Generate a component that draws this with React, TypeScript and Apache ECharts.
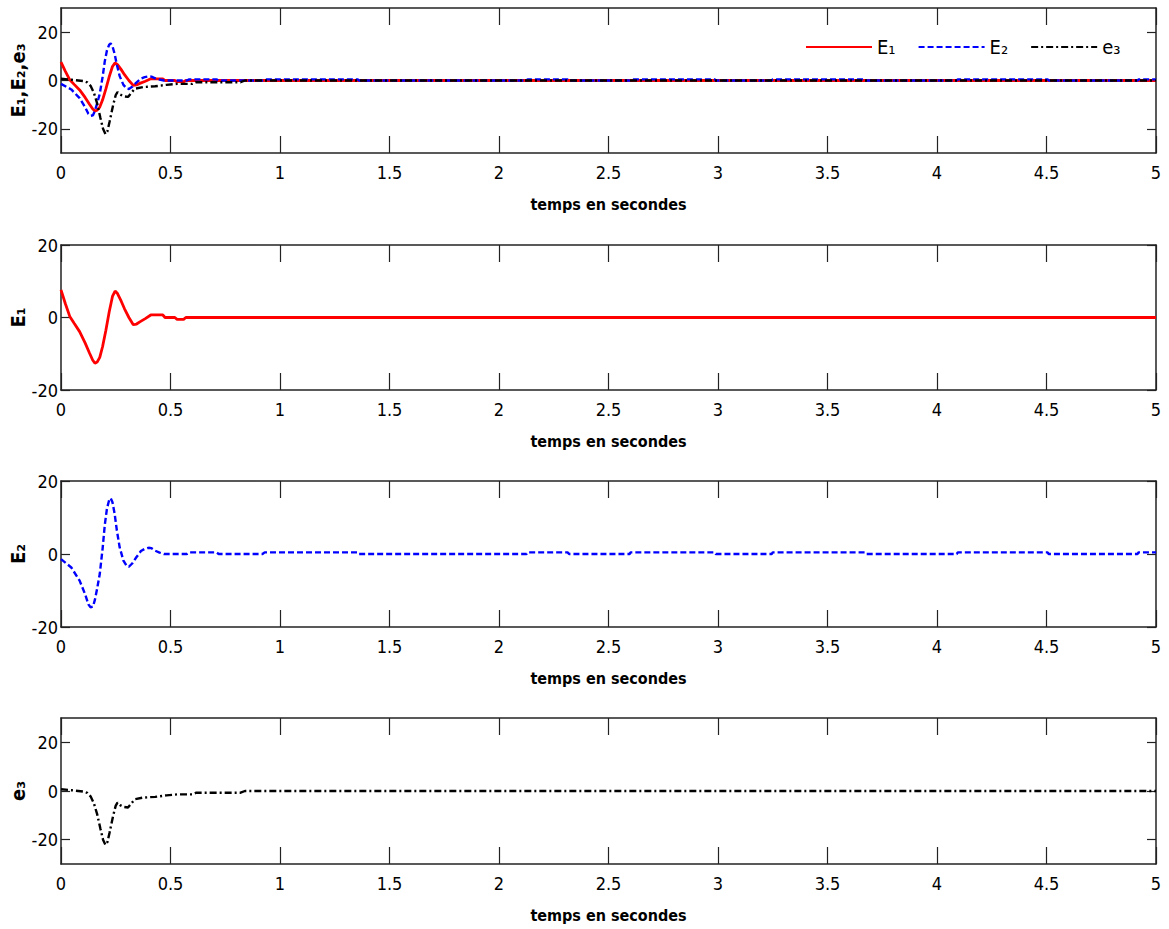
import React, { useEffect, useRef } from "react";
import * as echarts from "echarts";

// ---- Data ----
const tE1 = [0, 0.02, 0.04, 0.06, 0.085, 0.11, 0.13, 0.145, 0.155, 0.165, 0.177, 0.19, 0.205, 0.22, 0.235, 0.247, 0.258, 0.275, 0.29, 0.31, 0.33, 0.345, 0.36, 0.385, 0.41, 0.465, 0.475, 0.52, 0.53, 0.56, 0.57, 5];
const vE1 = [7.6, 3.8, 0.3, -1.6, -3.9, -7, -9.8, -11.8, -12.6, -12.3, -11, -8, -3.5, 1.5, 5.8, 7.3, 6.6, 4.5, 2.4, 0, -2, -1.8, -1.2, -0.3, 0.7, 0.7, 0, 0, -0.5, -0.5, 0, 0];

const tE2 = [0, 0.047, 0.085, 0.11, 0.125, 0.135, 0.146, 0.155, 0.165, 0.177, 0.19, 0.2, 0.21, 0.22, 0.227, 0.235, 0.245, 0.255, 0.268, 0.285, 0.3, 0.31, 0.325, 0.344, 0.365, 0.382, 0.4, 0.413, 0.43, 0.45, 0.47, 0.575, 0.585, 0.71, 0.72, 0.92, 0.93, 1.355, 1.36, 2.126, 2.13, 2.313, 2.32, 2.597, 2.6, 2.985, 2.99, 3.245, 3.25, 3.67, 3.675, 4.09, 4.095, 4.505, 4.51, 4.916, 4.92, 5];
const vE2 = [-1.4, -3.7, -7.3, -11, -13.8, -14.6, -14.4, -12.5, -9.5, -5.5, 1.5, 8, 12.5, 14.8, 15.3, 14.2, 11, 6.5, 1.8, -1.8, -3.3, -3.5, -2.6, -0.9, 0.8, 1.4, 1.7, 1.6, 0.9, 0.4, 0, 0, 0.45, 0.45, 0, 0, 0.45, 0.45, 0, 0, 0.45, 0.45, 0, 0, 0.45, 0.45, 0, 0, 0.45, 0.45, 0, 0, 0.45, 0.45, 0, 0, 0.45, 0.45];

const te3 = [0, 0.05, 0.1, 0.12, 0.135, 0.15, 0.165, 0.18, 0.192, 0.203, 0.212, 0.222, 0.238, 0.25, 0.258, 0.27, 0.285, 0.306, 0.322, 0.337, 0.375, 0.43, 0.481, 0.53, 0.6, 0.618, 0.82, 0.84, 5];
const ve3 = [0.7, 0.3, -0.2, -0.8, -2.2, -5, -9.5, -15.5, -20, -22.2, -21, -17, -10.2, -6, -4.8, -5.8, -6.5, -6.8, -5, -3.4, -2.7, -2.4, -1.8, -1.4, -1.4, -0.7, -0.7, 0, 0];

const xTicks = { min: 0, max: 5, interval: 0.5 };
const yRangeWide = { min: -30, max: 30 };
const yRangeNarrow = { min: -20, max: 20 };
const yTickValues = [-20, 0, 20];
const seriesNames = ["E\u2081", "E\u2082", "e\u2083"];
const yNames = ["E\u2081,E\u2082,e\u2083", "E\u2081", "E\u2082", "e\u2083"];
const xName = "temps en secondes";

const FONT = '"Liberation Sans Narrow", "DejaVu Sans Condensed", "Arial Narrow", sans-serif';
const AXIS_COLOR = "#222";

function pairs(t: number[], v: number[]) {
  return t.map((x, i) => [x, v[i]]);
}

const grids = [
  { top: 8, height: 145 },
  { top: 245, height: 145 },
  { top: 481, height: 146 },
  { top: 718, height: 146 },
];

function makeX(gi: number, bottom: boolean) {
  return {
    type: "value",
    gridIndex: gi,
    position: bottom ? "bottom" : "top",
    min: xTicks.min,
    max: xTicks.max,
    interval: xTicks.interval,
    axisLine: { show: true, onZero: false, lineStyle: { color: AXIS_COLOR, width: 1.5 } },
    axisTick: { show: true, inside: true, length: 17, lineStyle: { color: AXIS_COLOR, width: 1.2 } },
    axisLabel: { show: bottom, fontSize: 18, fontFamily: FONT, color: "#000", margin: 10 },
    splitLine: { show: false },
    name: bottom ? xName : "",
    nameLocation: "middle",
    nameGap: 43,
    nameTextStyle: { fontWeight: "bold", fontSize: 16, fontFamily: FONT, color: "#000" },
  };
}

function makeY(gi: number, left: boolean, wide: boolean) {
  const r = wide ? yRangeWide : yRangeNarrow;
  return {
    type: "value",
    gridIndex: gi,
    position: left ? "left" : "right",
    min: r.min,
    max: r.max,
    interval: wide ? 10 : 20,
    axisLine: { show: true, onZero: false, lineStyle: { color: AXIS_COLOR, width: 1.5 } },
    axisTick: {
      show: true,
      inside: true,
      length: 9,
      customValues: yTickValues,
      lineStyle: { color: AXIS_COLOR, width: 1.2 },
    },
    axisLabel: {
      show: left,
      customValues: yTickValues,
      fontSize: 18,
      fontFamily: FONT,
      color: "#000",
      margin: 3,
      formatter: (v: number) => (v % 20 === 0 ? String(v) : ""),
    },
    splitLine: { show: false },
    name: left ? yNames[gi] : "",
    nameLocation: "middle",
    nameRotate: 90,
    nameGap: 33,
    nameMoveOverlap: false,
    nameTextStyle: { fontWeight: "bold", fontSize: 20, fontFamily: FONT, color: "#000" },
  };
}

const styleE1 = { color: "#ff0000", width: 2.8, type: "solid" };
const styleE2 = { color: "#0000ff", width: 2.4, type: [6, 3] };
const stylee3 = { color: "#000000", width: 2.4, type: [7, 3, 2, 3] };

function line(name: string, gi: number, data: number[][], ls: any) {
  return {
    type: "line",
    name,
    xAxisIndex: gi * 2,
    yAxisIndex: gi * 2,
    data,
    symbol: "none",
    showSymbol: false,
    lineStyle: ls,
    itemStyle: { color: ls.color },
    silent: true,
  };
}

export default function App() {
  const ref = useRef<HTMLDivElement>(null);
  useEffect(() => {
    document.body.style.margin = "0";
    const chart = echarts.init(ref.current!, null, { renderer: "svg" });
    const dE1 = pairs(tE1, vE1);
    const dE2 = pairs(tE2, vE2);
    const de3 = pairs(te3, ve3);
    const xAxis: any[] = [];
    const yAxis: any[] = [];
    grids.forEach((g, i) => {
      xAxis.push(makeX(i, true), makeX(i, false));
      const wide = i === 0 || i === 3;
      yAxis.push(makeY(i, true, wide), makeY(i, false, wide));
    });
    chart.setOption({
      animation: false,
      backgroundColor: "#ffffff",
      grid: grids.map((g) => ({
        left: 61,
        right: 13,
        top: g.top,
        height: g.height,
        containLabel: false,
        outerBoundsMode: "none",
      })),
      xAxis,
      yAxis,
      legend: {
        data: seriesNames,
        left: 800,
        top: 32,
        itemWidth: 66,
        itemHeight: 14,
        itemGap: 22,
        itemStyle: { color: "rgba(0,0,0,0)", borderColor: "rgba(0,0,0,0)", borderWidth: 0, opacity: 0 },
        textStyle: { fontSize: 20, fontFamily: FONT, color: "#000" },
        selectedMode: false,
      },
      series: [
        line(seriesNames[0], 0, dE1, styleE1),
        line(seriesNames[1], 0, dE2, styleE2),
        line(seriesNames[2], 0, de3, stylee3),
        line("E1 panel", 1, dE1, styleE1),
        line("E2 panel", 2, dE2, styleE2),
        line("e3 panel", 3, de3, stylee3),
      ],
    });
    return () => chart.dispose();
  }, []);
  return <div ref={ref} style={{ width: 1169, height: 929 }} />;
}
